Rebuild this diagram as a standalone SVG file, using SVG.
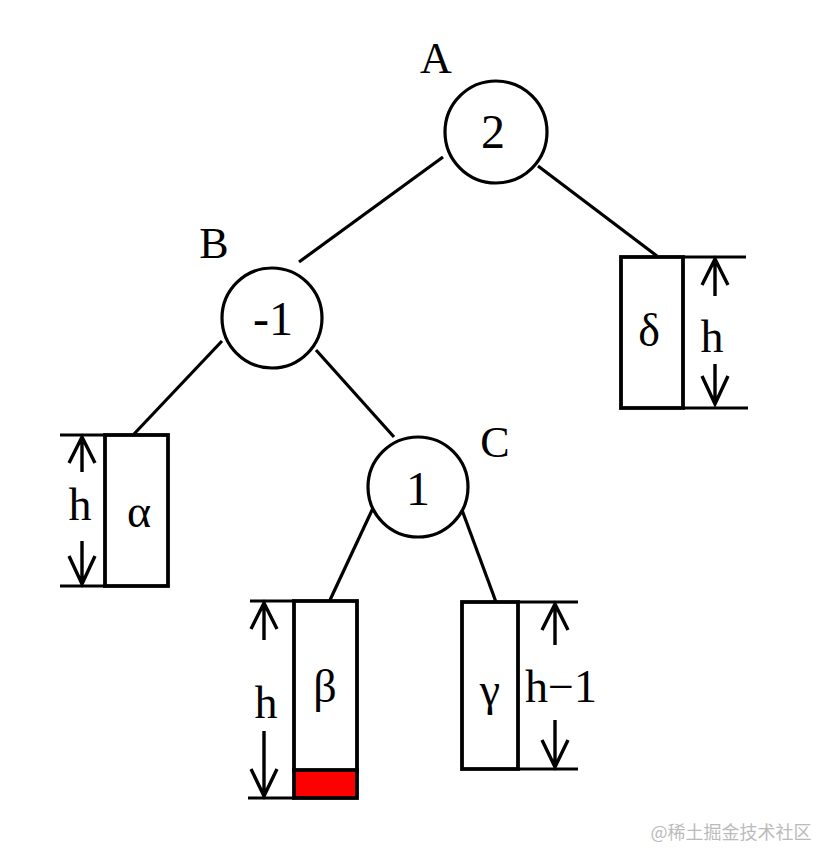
<svg xmlns="http://www.w3.org/2000/svg" width="832" height="864" viewBox="0 0 832 864">
<style>
.ln{stroke:#000;stroke-width:3.2;fill:none}
.bx{stroke:#000;stroke-width:3.8;fill:#fff}
.nd{stroke:#000;stroke-width:3.2;fill:#fff}
.t{font-family:"Liberation Serif","Times New Roman",serif;fill:#000;text-anchor:middle}
.big{font-size:48px}
.lbl{font-size:44px}
.g{font-size:46px}
.ar{stroke:#000;stroke-width:3.4;fill:none;stroke-linecap:butt}
</style>
<rect width="832" height="864" fill="#fff"/>
<g id="connectors">
<line class="ln" x1="443" y1="157" x2="299" y2="262"/>
<line class="ln" x1="538" y1="166" x2="657" y2="256"/>
<line class="ln" x1="222" y1="341" x2="134" y2="434"/>
<line class="ln" x1="316" y1="350" x2="394" y2="437"/>
<line class="ln" x1="373" y1="508" x2="330" y2="600"/>
<line class="ln" x1="462" y1="510" x2="496" y2="602"/>
</g>
<g id="nodeA">
<circle class="nd" cx="496" cy="132" r="51"/>
<text class="t big" x="493" y="148">2</text>
<text class="t lbl" x="436" y="73">A</text>
</g>
<g id="nodeB">
<circle class="nd" cx="272" cy="318" r="50"/>
<text class="t big" x="273" y="335">-1</text>
<text class="t lbl" x="214" y="258">B</text>
</g>
<g id="nodeC">
<circle class="nd" cx="418" cy="487" r="50"/>
<text class="t big" x="418" y="505">1</text>
<text class="t lbl" x="495" y="457">C</text>
</g>
<g id="delta">
<rect class="bx" x="621" y="257" width="62" height="151"/>
<line class="ln" x1="683" y1="257" x2="746" y2="257"/>
<line class="ln" x1="683" y1="408" x2="748" y2="408"/>
<path class="ar" d="M715 296V259M702 285L715 259L728 285M715 364V404M702 376L715 404L728 376"/>
<text class="t g" x="649" y="346">δ</text>
<text class="t g" x="712" y="352">h</text>
</g>
<g id="alpha">
<rect class="bx" x="105" y="435" width="63" height="151"/>
<line class="ln" x1="60" y1="435" x2="105" y2="435"/>
<line class="ln" x1="60" y1="586" x2="105" y2="586"/>
<path class="ar" d="M82 472V437M69 463L82 437L95 463M82 541V584M69 556L82 584L95 556"/>
<text class="t g" x="80" y="520">h</text>
<text class="t g" x="139" y="527">α</text>
</g>
<g id="beta">
<rect class="bx" x="294" y="601" width="63" height="170"/>
<rect x="294" y="770" width="63" height="28" fill="#f00" stroke="#000" stroke-width="3.8"/>
<line class="ln" x1="250" y1="601" x2="294" y2="601"/>
<line class="ln" x1="248" y1="798" x2="294" y2="798"/>
<path class="ar" d="M264 640V603M251 629L264 603L277 629M264 731V796M251 769L264 796L277 769"/>
<text class="t g" x="266" y="718">h</text>
<text class="t g" x="325" y="702">β</text>
</g>
<g id="gamma">
<rect class="bx" x="462" y="602" width="56" height="167"/>
<line class="ln" x1="518" y1="602" x2="578" y2="602"/>
<line class="ln" x1="518" y1="769" x2="578" y2="769"/>
<path class="ar" d="M555 645V604M542 630L555 604L568 630M555 720V767M542 740L555 767L568 740"/>
<text class="t g" x="490" y="705">γ</text>
<text class="t g" x="561" y="702">h−1</text>
</g>
<text x="731" y="839" font-family="'Noto Sans CJK SC','Noto Sans',sans-serif" font-size="18" fill="#bbb" text-anchor="middle">@稀土掘金技术社区</text>
</svg>
